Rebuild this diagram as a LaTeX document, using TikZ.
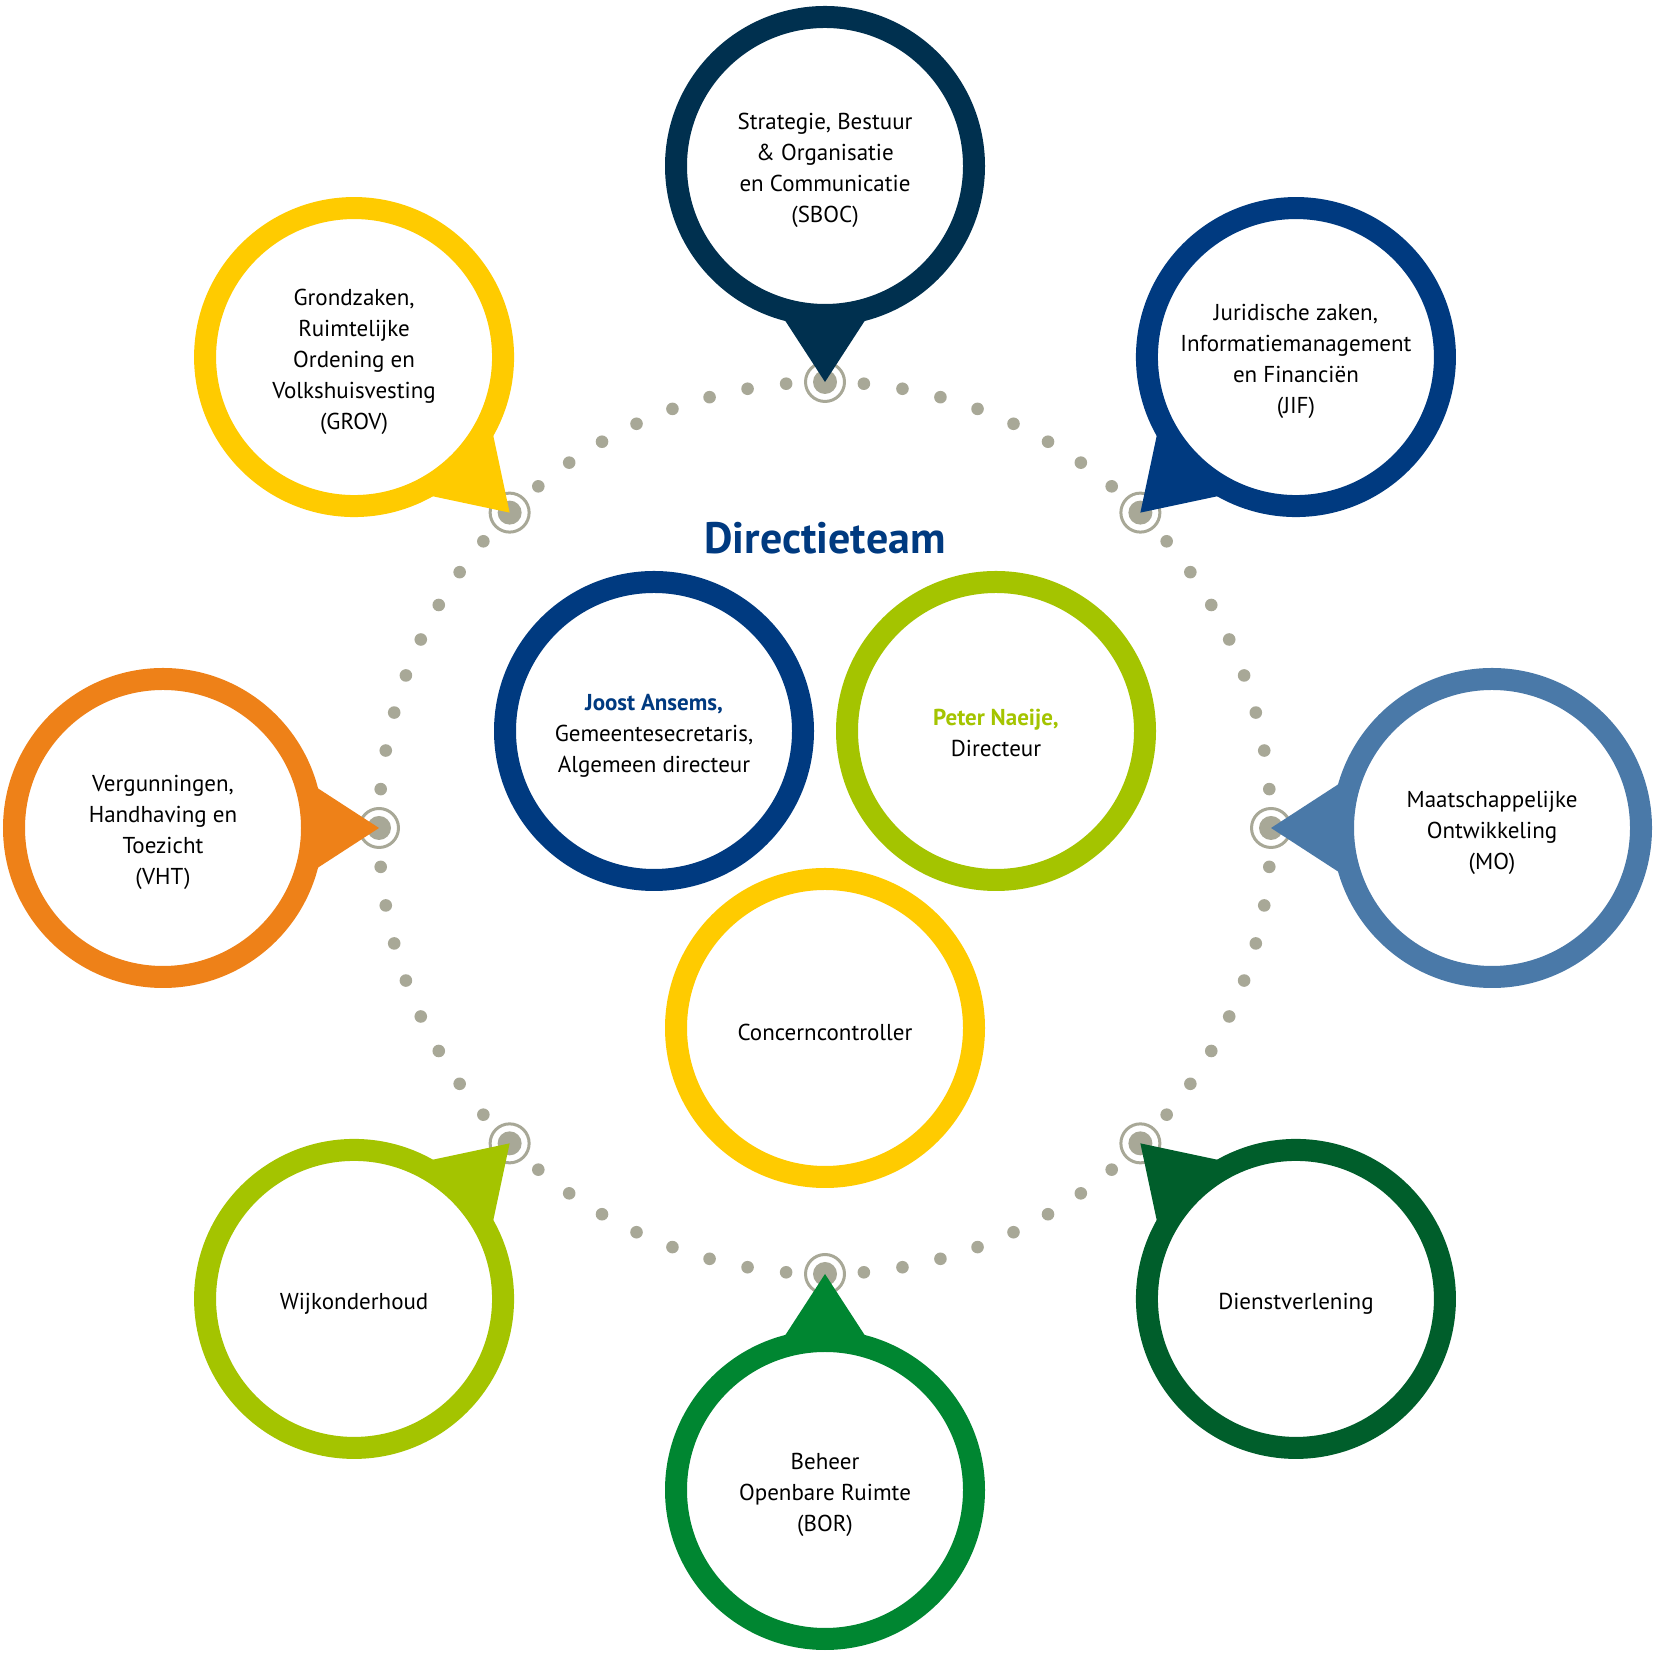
\documentclass[tikz,border=0pt]{standalone}
\usepackage{fontspec}
\setmainfont{PT Sans}
\usetikzlibrary{calc}
\definecolor{cSBOC}{HTML}{00304F}
\definecolor{cJIF}{HTML}{003A80}
\definecolor{cMO}{HTML}{4A79A8}
\definecolor{cDV}{HTML}{005E2B}
\definecolor{cBOR}{HTML}{008631}
\definecolor{cWIJK}{HTML}{A4C400}
\definecolor{cVHT}{HTML}{EE8118}
\definecolor{cGROV}{HTML}{FFCB00}
\definecolor{cDot}{HTML}{A8A897}
\tikzset{
  ringnode/.style={circle, draw=#1, line width=22pt, fill=white, minimum size=298pt,
    inner sep=0pt},
  ringtext/.style={align=center, font=\fontsize{23}{31}\selectfont, text=black, inner sep=0pt, yshift=-4.5pt},
  pintail/.style={fill=#1, draw=none},
  smalldot/.style={fill=cDot, draw=none},
  bigdot/.style={fill=cDot, draw=none},
  dotring/.style={draw=cDot, line width=3pt, fill=none},
}
\begin{document}
\begin{tikzpicture}[x=1pt,y=1pt]
\useasboundingbox (0,0) rectangle (1656,1656);
\coordinate (C) at (825,828);
% dotted ring
\foreach \i in {0,...,71}{
  \pgfmathtruncatemacro{\m}{mod(\i,9)}
  \pgfmathsetmacro{\a}{90-5*\i}
  \ifnum\m=0
    \fill[bigdot] ($(C)+(\a:446)$) circle[radius=12];
    \draw[dotring] ($(C)+(\a:446)$) circle[radius=19.5];
  \else
    \fill[smalldot] ($(C)+(\a:446)$) circle[radius=6.3];
  \fi
}
% outer units: name/angle/distance/colour
\foreach \n/\a/\d/\c in {sboc/90/662/cSBOC, jif/45/666/cJIF, mo/0/667/cMO, dv/-45/666/cDV, bor/-90/662/cBOR, wijk/-135/666/cWIJK, vht/180/662/cVHT, grov/135/666/cGROV}{
  \coordinate (\n c) at ($(C)+(\a:\d)$);
  \coordinate (\n t) at ($(C)+(\a:446)$);
  \fill[pintail=\c] (\n t) -- ($(\n t)!178pt!33:(\n c)$) -- ($(\n t)!178pt!-33:(\n c)$) -- cycle;
}
\node[ringnode=cSBOC, label={[ringtext]center:{Strategie, Bestuur\\\& Organisatie\\en Communicatie\\(SBOC)}}] (sboc) at (sbocc) {};
\node[ringnode=cJIF, label={[ringtext]center:{Juridische zaken,\\Informatiemanagement\\en Financiën\\(JIF)}}] (jif) at (jifc) {};
\node[ringnode=cMO, label={[ringtext]center:{Maatschappelijke\\Ontwikkeling\\(MO)}}] (mo) at (moc) {};
\node[ringnode=cDV, label={[ringtext]center:{Dienstverlening}}] (dv) at (dvc) {};
\node[ringnode=cBOR, label={[ringtext]center:{Beheer\\Openbare Ruimte\\(BOR)}}] (bor) at (borc) {};
\node[ringnode=cWIJK, label={[ringtext]center:{Wijkonderhoud}}] (wijk) at (wijkc) {};
\node[ringnode=cVHT, label={[ringtext]center:{Vergunningen,\\Handhaving en\\Toezicht\\(VHT)}}] (vht) at (vhtc) {};
\node[ringnode=cGROV, label={[ringtext]center:{Grondzaken,\\Ruimtelijke\\Ordening en\\Volkshuisvesting\\(GROV)}}] (grov) at (grovc) {};
% centre
\node[anchor=base, text=cJIF, font=\bfseries\fontsize{44}{52}\selectfont] (title) at (825,1102) {Directieteam};
\node[ringnode=cJIF, label={[ringtext]center:{{\color{cJIF}\bfseries Joost Ansems,}\\Gemeentesecretaris,\\Algemeen directeur}}] (joost) at ($(C)+(-171,97)$) {};
\node[ringnode=cWIJK, label={[ringtext, yshift=3pt]center:{{\color{cWIJK}\bfseries Peter Naeije,}\\Directeur}}] (peter) at ($(C)+(171,97)$) {};
\node[ringnode=cGROV, label={[ringtext]center:{Concerncontroller}}] (cc) at ($(C)+(0,-200)$) {};
\end{tikzpicture}
\end{document}
